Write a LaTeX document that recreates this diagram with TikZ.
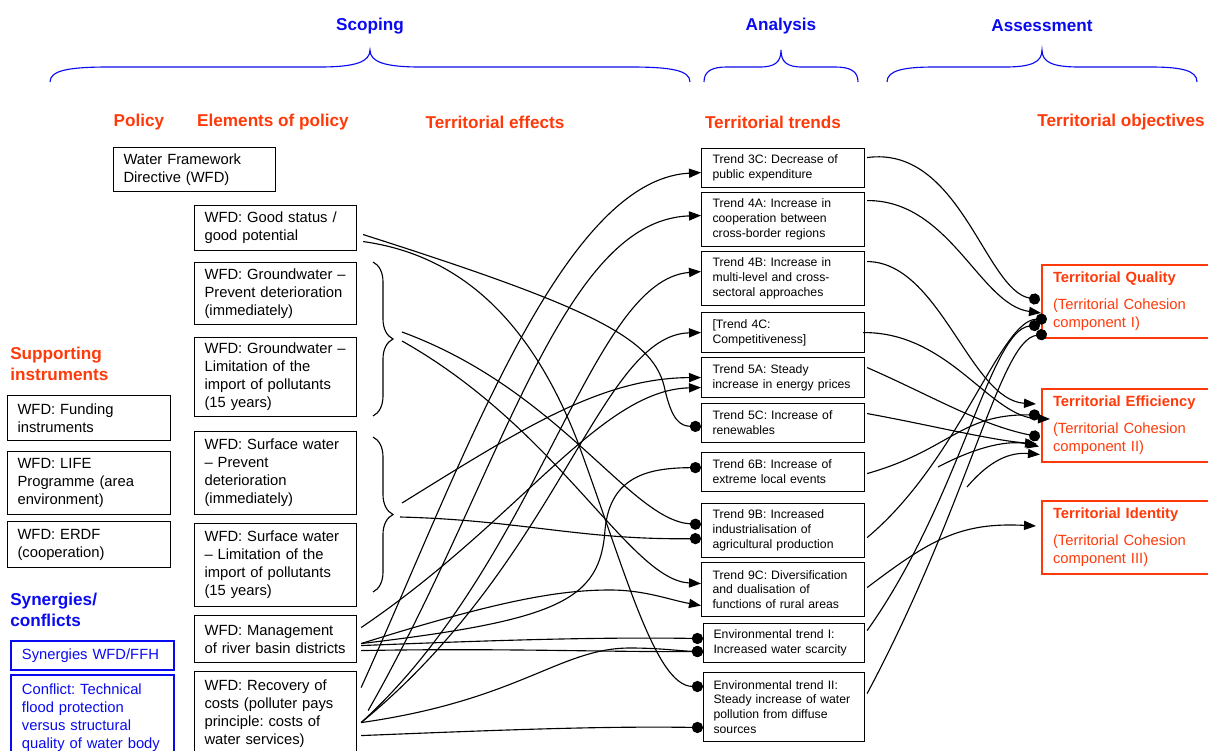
\documentclass[tikz,border=0pt]{standalone}
\usepackage{fontspec}
\setmainfont{Liberation Sans}
\frenchspacing
\usetikzlibrary{arrows.meta,positioning,calc,decorations.pathreplacing}
\definecolor{Blue}{HTML}{0A0AF0}
\definecolor{Red}{HTML}{FF3A0A}

\begin{document}
\begin{tikzpicture}[x=0.25mm,y=-0.25mm,
head/.style={font=\fontsize{12.2}{15}\selectfont\bfseries},
phase/.style={head,text=Blue},
col/.style={head,text=Red},
elem/.style={draw,line width=0.8pt,anchor=north west,align=left,inner xsep=2.5mm,text width=35.5mm,font=\fontsize{10.5}{12.8}\selectfont},
supp/.style={elem,text width=35.75mm},
syn/.style={elem,draw=Blue,text=Blue,line width=1.4pt,inner xsep=2.75mm,text width=35.25mm},
trend/.style={draw,line width=0.8pt,anchor=north west,align=left,inner xsep=2.75mm,text width=35.25mm,font=\fontsize{8.7}{10.6}\selectfont},
env/.style={trend,inner xsep=2.5mm},
obj/.style={draw=Red,text=Red,line width=1.4pt,anchor=north west,align=left,inner xsep=2.75mm,text width=40mm,minimum height=18.25mm,font=\fontsize{10.5}{12.8}\selectfont},
curly/.style={decorate,decoration={brace,amplitude=#1}},
ln/.style={line width=0.8pt},
arr/.style={ln,-{Triangle[length=3mm,width=2.3mm]}},
dotend/.style={ln,-{Circle[length=2.8mm]}}]
\useasboundingbox (0,0) rectangle (1208,751);

% phases
\node[phase] (hscop) at (370,26) {Scoping};
\node[phase] (hanal) at (781,26) {Analysis};
\node[phase] (hassess) at (1042,26) {Assessment};
\draw[Blue,ln] (50,82) .. controls (50,70) and (70,67) .. (110,67) -- (320,67) .. controls (355,67) and (370,62) .. (370,50)
  .. controls (370,62) and (385,67) .. (420,67) -- (630,67) .. controls (670,67) and (690,70) .. (690,82);
\draw[Blue,ln] (704,82) .. controls (704,71) and (712,67) .. (727,67) -- (760,67) .. controls (775,67) and (781,62) .. (781,50)
  .. controls (781,62) and (787,67) .. (802,67) -- (835,67) .. controls (850,67) and (858,71) .. (858,82);
\draw[Blue,ln] (887,82) .. controls (887,70) and (905,67) .. (935,67) -- (1005,67) .. controls (1032,67) and (1042,62) .. (1042,50)
  .. controls (1042,62) and (1052,67) .. (1079,67) -- (1150,67) .. controls (1180,67) and (1197,70) .. (1197,82);

% column heads
\node[col] (hpol) at (139,122) {Policy};
\node[col] (helem) at (273,122) {Elements of policy};
\node[col] (heff) at (495,122) {Territorial effects};
\node[col] (htrend) at (773,122) {Territorial trends};
\node[col] (hobj) at (1121,122) {Territorial objectives};

% policy and its elements
\node[elem,minimum height=11mm] (wfd) at (113,147) {Water Framework\\Directive (WFD)};
\node[elem,minimum height=11.25mm] (good) at (194,205) {WFD: Good status /\\good potential};
\node[elem,minimum height=15.5mm] (gwprev) at (194,262) {WFD: Groundwater --\\Prevent deterioration\\(immediately)};
\node[elem,minimum height=19.75mm] (gwlim) at (194,337) {WFD: Groundwater --\\Limitation of the\\import of pollutants\\(15 years)};
\node[elem,minimum height=20.75mm] (swprev) at (194,431) {WFD: Surface water\\-- Prevent\\deterioration\\(immediately)};
\node[elem,minimum height=20.75mm] (swlim) at (194,523) {WFD: Surface water\\-- Limitation of the\\import of pollutants\\(15 years)};
\node[elem,minimum height=11.75mm] (manage) at (194,615) {WFD: Management\\of river basin districts};
\node[elem,minimum height=21mm] (recov) at (194,671) {WFD: Recovery of\\costs (polluter pays\\principle: costs of\\water services)};
\draw[ln,curly=5mm] (373,262) -- (373,416);
\draw[ln,curly=5mm] (373,437) -- (373,592);
\coordinate (gwtip) at (402,336);
\coordinate (swtip) at (402,510);

% supporting instruments, synergies
\node[col,align=left,anchor=west,inner sep=0pt] (hsupp) at (10,364) {Supporting\\instruments};
\node[supp,minimum height=11.25mm] (fund) at (7,395) {WFD: Funding\\instruments};
\node[supp,minimum height=15.75mm] (life) at (7,451) {WFD: LIFE\\Programme (area\\environment)};
\node[supp,minimum height=11.5mm] (erdf) at (7,521) {WFD: ERDF\\(cooperation)};
\node[phase,align=left,anchor=west,inner sep=0pt] (hsyn) at (10,610) {Synergies/\\conflicts};
\node[syn,minimum height=7.25mm] (synbox) at (10,640) {Synergies WFD/FFH};
\node[syn,minimum height=21.25mm] (confl) at (10,674) {Conflict: Technical\\flood protection\\versus structural\\quality of water body};

% trends
\node[trend,minimum height=9.75mm] (t3c) at (701,148) {Trend 3C: Decrease of\\public expenditure};
\node[trend,minimum height=13.5mm] (t4a) at (701,192) {Trend 4A: Increase in\\cooperation between\\cross-border regions};
\node[trend,minimum height=13.5mm] (t4b) at (701,251) {Trend 4B: Increase in\\multi-level and cross-\\sectoral approaches};
\node[trend,minimum height=10mm] (t4c) at (701,312) {[Trend 4C:\\Competitiveness]};
\node[trend,minimum height=10mm] (t5a) at (701,357) {Trend 5A: Steady\\increase in energy prices};
\node[trend,minimum height=9.75mm] (t5c) at (701,403) {Trend 5C: Increase of\\renewables};
\node[trend,minimum height=9.75mm] (t6b) at (701,452) {Trend 6B: Increase of\\extreme local events};
\node[trend,minimum height=13.5mm] (t9b) at (701,503) {Trend 9B: Increased\\industrialisation of\\agricultural production};
\node[trend,minimum height=13.5mm] (t9c) at (701,562) {Trend 9C: Diversification\\and dualisation of\\functions of rural areas};
\node[env,minimum height=9.75mm] (envi) at (703,623) {Environmental trend I:\\Increased water scarcity};
\node[env,minimum height=17.25mm] (envii) at (703,672) {Environmental trend II:\\Steady increase of water\\pollution from diffuse\\sources};

% objectives
\node[obj] (oqual) at (1041,264) {\textbf{Territorial Quality}\\[2.2mm](Territorial Cohesion\\component I)};
\node[obj] (oeff) at (1041,388) {\textbf{Territorial Efficiency}\\[2.2mm](Territorial Cohesion\\component II)};
\node[obj] (oident) at (1041,500) {\textbf{Territorial Identity}\\[2.2mm](Territorial Cohesion\\component III)};

% elements -> trends
\draw[dotend] ($(good.east)+(6,6.5)$) .. controls (600,310) and (655,340) .. (665,390) .. controls (672,420) and (680,426) .. ($(t5c.west)+(0,3.5)$);
\draw[dotend] ($(good.east)+(6,13.5)$) .. controls (460,255) and (530,320) .. (577,440) .. controls (625,570) and (655,686) .. ($(envii.west)+(0,-20.5)$);
\draw[dotend] ($(gwtip)+(0,-4)$) .. controls (560,390) and (630,520) .. ($(t9b.west)+(0,-6)$);
\draw[arr] ($(gwtip)+(0,5)$) .. controls (560,430) and (630,580) .. ($(t9c.west)+(0,-6)$);
\draw[arr] ($(swtip)+(0,-7)$) .. controls (520,430) and (600,378) .. (t5a.west);
\draw[dotend] ($(swtip)+(-2,7)$) .. controls (520,520) and (580,540) .. ($(t9b.west)+(0,8)$);
\draw[arr] ($(recov.east)+(4,-26)$) .. controls (460,470) and (560,180) .. ($(t3c.west)+(0,4.5)$);
\draw[arr] ($(recov.east)+(11,-3)$) .. controls (500,480) and (560,220) .. ($(t4a.west)+(0,-4)$);
\draw[arr] ($(recov.east)+(4,9)$) .. controls (540,560) and (590,280) .. ($(t4b.west)+(0,-7)$);
\draw[arr] ($(recov.east)+(4,9)$) .. controls (560,560) and (600,335) .. (t4c.west);
\draw[arr] ($(manage.east)+(4,-11.5)$) .. controls (520,520) and (600,390) .. ($(t5a.west)+(0,10)$);
\draw[dotend] ($(manage.east)+(4,4.5)$) .. controls (560,620) and (600,600) .. (605,530) .. controls (610,475) and (650,468) .. ($(t6b.west)+(0,-4.5)$);
\draw[arr] ($(manage.east)+(4,4.5)$) .. controls (500,600) and (560,590) .. (610,590) .. controls (645,590) and (670,600) .. ($(t9c.west)+(0,16)$);
\draw[dotend] ($(manage.east)+(4,6.5)$) .. controls (500,640) and (600,637) .. ($(envi.west)+(0,-4.5)$);
\draw[dotend] ($(manage.east)+(4,11.5)$) .. controls (500,648) and (600,652) .. ($(envi.west)+(0,8.5)$);
\draw[dotend] ($(recov.east)+(4,9)$) .. controls (520,700) and (560,648) .. (630,648) .. controls (660,648) and (680,651) .. ($(envi.west)+(0,8.5)$);
\draw[dotend] ($(recov.east)+(4,22)$) .. controls (500,730) and (600,726) .. ($(envii.west)+(0,20.5)$);

% trends -> objectives
\draw[dotend] ($(t3c.east)+(2,-10.5)$) .. controls (960,145) and (985,290) .. ($(oqual.west)+(-1,-1.5)$);
\draw[arr] ($(t4a.east)+(2,-19)$) .. controls (950,200) and (980,305) .. ($(oqual.west)+(0,11.5)$);
\draw[arr] ($(t4b.east)+(2,-17)$) .. controls (940,262) and (970,400) .. ($(oeff.west)+(-5,-21.5)$);
\draw[arr] ($(t4c.east)+(-2,0)$) .. controls (950,332) and (990,418) .. ($(oeff.west)+(9,-6.5)$);
\draw[dotend] ($(t5a.east)+(2,-10)$) .. controls (930,395) and (980,425) .. ($(oeff.west)+(-1,11.5)$);
\draw[arr] ($(t5c.east)+(2,-9.5)$) .. controls (930,425) and (990,440) .. ($(oeff.west)+(-4,18.5)$);
\draw[dotend] ($(t6b.east)+(2,1.5)$) .. controls (950,450) and (960,414) .. ($(oeff.west)+(-1,-10.5)$);
\draw[dotend] ($(t9b.east)+(2,7)$) .. controls (960,460) and (1000,320) .. ($(oqual.west)+(6,17.5)$);
\draw[arr] ($(t9c.east)+(2,-2)$) .. controls (930,540) and (960,522) .. ($(oident.west)+(-5,-11.5)$);
\draw[dotend] ($(envi.east)+(2,-12.5)$) .. controls (960,500) and (990,330) .. ($(oqual.west)+(-1,23.5)$);
\draw[dotend] ($(envii.east)+(2,-13.5)$) .. controls (970,500) and (1000,340) .. ($(oqual.west)+(6,32.5)$);
\coordinate (fa) at (938,467);
\coordinate (fb) at (967,487);
\draw[arr] (fa) .. controls (980,445) and (1010,440) .. ($(oeff.west)+(-2,21)$);
\draw[arr] (fb) .. controls (990,460) and (1010,452) .. ($(oeff.west)+(-1,29)$);
\end{tikzpicture}
\end{document}
